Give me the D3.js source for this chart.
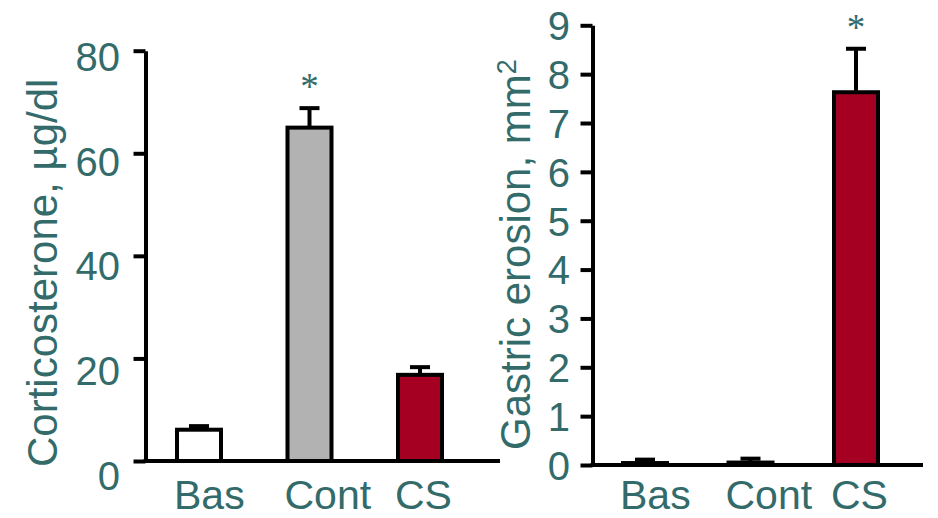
<!DOCTYPE html>
<html>
<head>
<meta charset="utf-8">
<script src="https://cdn.jsdelivr.net/npm/d3@7"></script>
<style>
body { margin: 0; background: #fff; }
svg text { font-family: "Liberation Sans", Arial, sans-serif; fill: #336b6b; }
</style>
</head>
<body>
<div id="chart"></div>
<script>
var groups = ['Bas', 'Cont', 'CS'];
var barColors = ['#ffffff', '#b2b2b2', '#a50021'];

var corticoMean = [6.1, 65.0, 16.8];
var corticoErr = [0.7, 3.8, 1.5];
var corticoStars = ['', '*', ''];
var corticoTicks = [0, 20, 40, 60, 80];

var erosionMean = [0.04, 0.05, 7.63];
var erosionErr = [0.07, 0.08, 0.89];
var erosionStars = ['', '', '*'];
var erosionTicks = [0, 1, 2, 3, 4, 5, 6, 7, 8, 9];

var teal = '#336b6b';
var width = 938, height = 518;

var svg = d3.select('#chart')
    .append('svg')
    .attr('width', width)
    .attr('height', height);

drawPanel({
    mean: corticoMean,
    err: corticoErr,
    stars: corticoStars,
    ticks: corticoTicks,
    yMax: 80,
    yRange: [461, 50.7],
    labelRange: [475, 56], // tick labels sit a little lower than the ticks in the original
    axisX: 145.5,
    axisEnd: 500,
    xRange: [199, 420],
    labelRight: 120,
    title: ['Corticosterone, \u00b5g/dl'],
    titleX: 57,
    titleY: 467
});

drawPanel({
    mean: erosionMean,
    err: erosionErr,
    stars: erosionStars,
    ticks: erosionTicks,
    yMax: 9,
    yRange: [465, 25.3],
    labelRange: [465, 25.3],
    axisX: 592.5,
    axisEnd: 923,
    xRange: [645, 856],
    labelRight: 570,
    title: ['Gastric erosion, mm', '2'],
    titleX: 530,
    titleY: 450
});

function drawPanel(cfg) {
    var y = d3.scaleLinear().domain([0, cfg.yMax]).range(cfg.yRange);
    var yLab = d3.scaleLinear().domain([0, cfg.yMax]).range(cfg.labelRange);
    var x = d3.scalePoint().domain(groups).range(cfg.xRange);
    var barW = 44;

    var data = groups.map(function(g, i) {
        return { name: g, mean: cfg.mean[i], err: cfg.err[i], star: cfg.stars[i], color: barColors[i] };
    });

    var g = svg.append('g');

    // bars
    g.selectAll('.bar')
        .data(data)
        .enter()
        .append('rect')
        .attr('class', 'bar')
        .attr('x', function(d) { return x(d.name) - barW / 2; })
        .attr('y', function(d) { return y(d.mean); })
        .attr('width', barW)
        .attr('height', function(d) { return y(0) - y(d.mean); })
        .attr('fill', function(d) { return d.color; })
        .attr('stroke', '#000')
        .attr('stroke-width', 4);

    // error bars
    var eb = g.selectAll('.err')
        .data(data)
        .enter()
        .append('g')
        .attr('class', 'err')
        .attr('stroke', '#000')
        .attr('stroke-width', 4);

    eb.append('line')
        .attr('x1', function(d) { return x(d.name); })
        .attr('x2', function(d) { return x(d.name); })
        .attr('y1', function(d) { return y(d.mean); })
        .attr('y2', function(d) { return y(d.mean + d.err); });

    eb.append('line')
        .attr('x1', function(d) { return x(d.name) - 10; })
        .attr('x2', function(d) { return x(d.name) + 10; })
        .attr('y1', function(d) { return y(d.mean + d.err); })
        .attr('y2', function(d) { return y(d.mean + d.err); });

    // significance stars
    g.selectAll('.star')
        .data(data.filter(function(d) { return d.star; }))
        .enter()
        .append('text')
        .attr('class', 'star')
        .attr('x', function(d) { return x(d.name); })
        .attr('y', function(d) { return y(d.mean + d.err) - 9; })
        .attr('text-anchor', 'middle')
        .style('font-family', '"Liberation Serif", "Times New Roman", serif')
        .style('font-size', '37px')
        .text(function(d) { return d.star; });

    // y axis
    var yAxis = g.append('g')
        .attr('transform', 'translate(' + cfg.axisX + ',0)')
        .call(d3.axisLeft(y)
            .tickValues(cfg.ticks)
            .tickSize(12)
            .tickSizeOuter(0)
            .tickPadding(cfg.axisX - cfg.labelRight - 12));

    yAxis.select('.domain').attr('stroke', '#000').attr('stroke-width', 4);
    yAxis.selectAll('.tick line').attr('stroke', '#000').attr('stroke-width', 4);
    yAxis.selectAll('.tick text')
        .attr('dy', '0.36em')
        .attr('y', function(d) { return yLab(d) - y(d); })
        .style('font-size', '40px')
        .style('fill', teal);

    // x axis baseline
    g.append('line')
        .attr('x1', cfg.axisX - 2)
        .attr('x2', cfg.axisEnd)
        .attr('y1', y(0))
        .attr('y2', y(0))
        .attr('stroke', '#000')
        .attr('stroke-width', 4);

    // category labels, left aligned with the bars
    g.selectAll('.cat')
        .data(data)
        .enter()
        .append('text')
        .attr('class', 'cat')
        .attr('x', function(d) { return x(d.name) - barW / 2 - 3; })
        .attr('y', 509)
        .style('font-size', '41px')
        .text(function(d) { return d.name; });

    // y title
    var t = g.append('text')
        .attr('transform', 'translate(' + cfg.titleX + ',' + cfg.titleY + ') rotate(-90)')
        .attr('text-anchor', 'start')
        .style('font-size', '42px');
    t.append('tspan').text(cfg.title[0]);
    if (cfg.title[1]) {
        t.append('tspan')
            .attr('dy', -14)
            .style('font-size', '27px')
            .text(cfg.title[1]);
    }
}
</script>
</body>
</html>
